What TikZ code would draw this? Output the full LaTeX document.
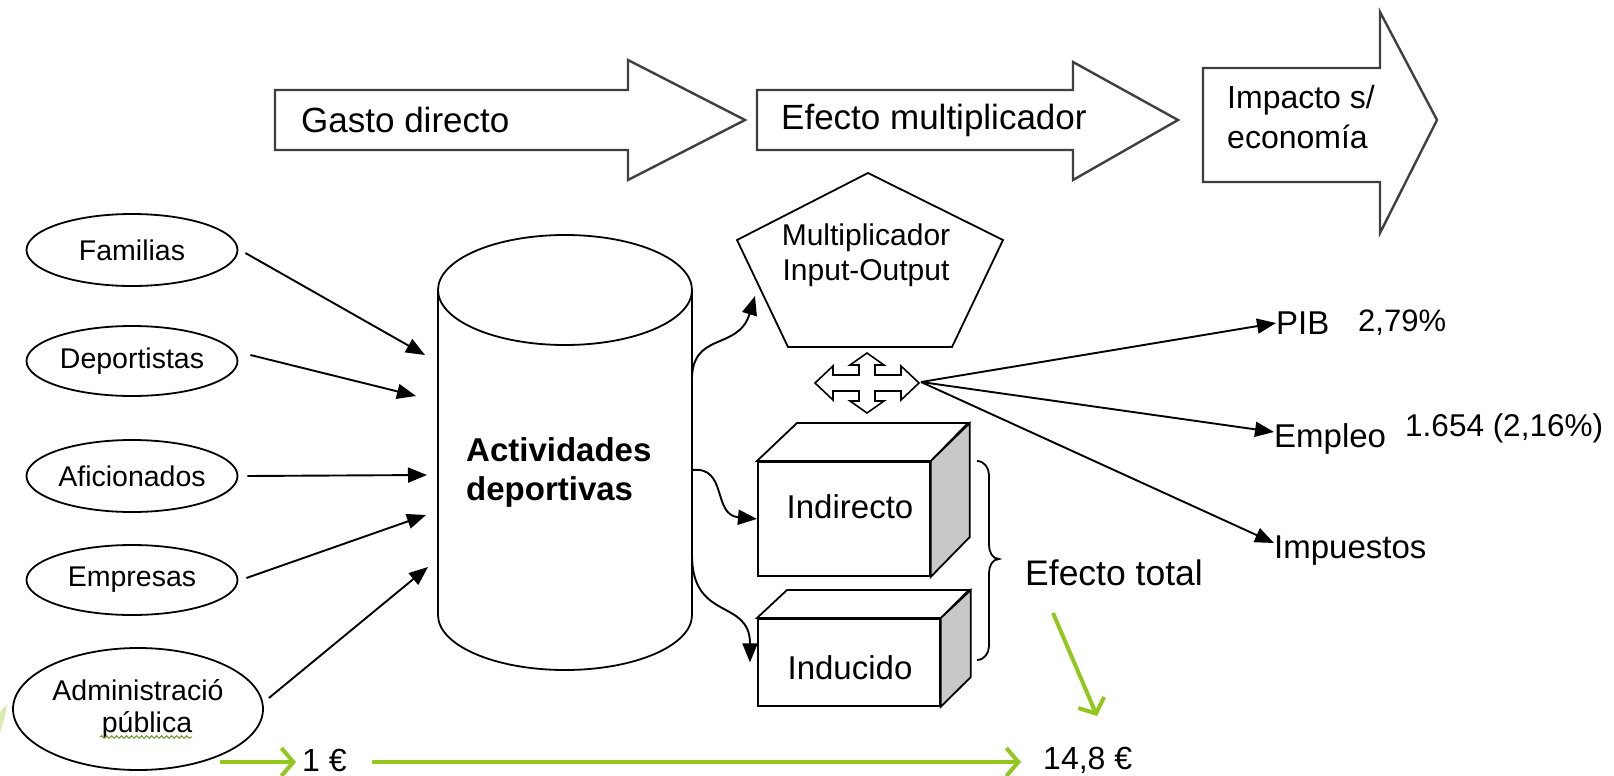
\documentclass[tikz,border=0pt]{standalone}
\usepackage{fontspec}
\setmainfont{Liberation Sans}
\usetikzlibrary{arrows.meta,shapes.geometric,decorations.pathmorphing}
\definecolor{lime}{RGB}{146,200,30}
\definecolor{sidegray}{RGB}{200,200,200}
\definecolor{spell}{RGB}{110,150,40}
\tikzset{
  shp/.style={draw=black, line width=1.8pt, fill=white},
  bigarrow/.style={draw=black!75, line width=2.4pt, fill=white, line join=miter},
  ell/.style={shp, ellipse, minimum width=211pt, minimum height=72pt, inner sep=0pt, font=\fontsize{28.5}{32}\selectfont},
  arr/.style={draw=black, line width=1.9pt, -{Triangle[length=19pt,width=15pt]}},
  garr/.style={draw=lime, line width=4pt, -{Straight Barb[length=12pt,width=28pt]}},
  lbl/.style={inner sep=0pt, anchor=west},
  cube/.style={shp, rectangle, anchor=north west, inner sep=0pt},
  cubetext/.style={inner sep=0pt, font=\fontsize{33}{38}\selectfont},
}
\begin{document}
\begin{tikzpicture}[x=1pt,y=-1pt]
\fill[white] (0,0) rectangle (1614,776);
\useasboundingbox (0,0) rectangle (1614,776);

% ---------- top arrows
\draw[bigarrow] (275,90) -- (628,90) -- (628,60) -- (745,120) -- (628,180) -- (628,150) -- (275,150) -- cycle;
\node[lbl, font=\fontsize{35}{40}\selectfont] (gasto) at (301,120) {Gasto directo};
\draw[bigarrow] (757,90) -- (1073,90) -- (1073,62) -- (1178,120) -- (1073,180) -- (1073,150) -- (757,150) -- cycle;
\node[lbl, font=\fontsize{35}{40}\selectfont] (efm) at (781,120) {Efecto multiplicador};
\draw[bigarrow] (1203,68) -- (1380,68) -- (1380,12) -- (1437,120) -- (1380,233) -- (1380,182) -- (1203,182) -- cycle;
\node[lbl, align=left, font=\fontsize{32}{40}\selectfont] (imp) at (1227,117) {Impacto s/\\economía};

% ---------- ellipses
\node[ell] (fam) at (132,250) {Familias};
\node[ell, minimum height=70pt] (dep) at (132,361) {Deportistas};
\node[ell] (afi) at (132,476) {Aficionados};
\node[ell, minimum height=70pt] (emp) at (132,580) {Empresas};
\node[ell, minimum width=250pt, minimum height=122pt, align=center, font=\fontsize{28.5}{32}\selectfont] (adm) at (138,709) {Administració\\\hspace*{18pt}pública};
\draw[spell, line width=1pt, decorate, decoration={snake, amplitude=1.3pt, segment length=5pt}] (100,737) -- (192,737);
\fill[lime!35] (0,733) -- (0,712) -- (7,704) -- (5,716) -- cycle;

% ---------- cylinder
\draw[shp] (438,290) -- (438,615) arc[start angle=180, end angle=360, x radius=127, y radius=-55] -- (692,290);
\draw[shp] (565,290) ellipse[x radius=127, y radius=55];
\node[lbl, align=left, font=\bfseries\fontsize{33}{39}\selectfont] (cyl) at (466,472) {Actividades\\deportivas};

\coordinate (c1) at (425,355);
\coordinate (c2) at (416,396);
\coordinate (c3) at (427,475);
\coordinate (c4) at (426,515);
\coordinate (c5) at (428,567);
\draw[arr] ([xshift=7pt,yshift=-3pt]fam.east) -- (c1);
\draw[arr] ([xshift=12pt,yshift=6pt]dep.east) -- (c2);
\draw[arr] ([xshift=9pt]afi.east) -- (c3);
\draw[arr] ([xshift=8pt,yshift=2pt]emp.east) -- (c4);
\draw[arr] ([xshift=5pt,yshift=11pt]adm.east) -- (c5);

% ---------- pentagon
\draw[shp] (868,173) -- (1003,240) -- (952,347) -- (788,347) -- (737,240) -- cycle;
\node[align=center, inner sep=0pt, font=\fontsize{30}{35}\selectfont] (mio) at (866,255) {Multiplicador\\Input-Output};

% ---------- quad arrow
\begin{scope}[shift={(867,383)}]
\draw[shp, line width=1.6pt, line join=miter] (0,-30) -- (17,-18) -- (8,-18) -- (8,-8) -- (34,-8) -- (34,-17) -- (52,0) -- (34,17) -- (34,8) -- (8,8) -- (8,18) -- (17,18) -- (0,30) -- (-17,18) -- (-8,18) -- (-8,8) -- (-34,8) -- (-34,17) -- (-52,0) -- (-34,-17) -- (-34,-8) -- (-8,-8) -- (-8,-18) -- (-17,-18) -- cycle;
\end{scope}
\coordinate (quadE) at (921,382);

% ---------- cubes
\node[cube, minimum width=172pt, minimum height=114pt] (ind) at (757,461) {};
\draw[shp] (ind.north west) -- ++(40,-38) -- ++(171,0) -- (ind.north east) -- cycle;
\draw[shp, fill=sidegray] (ind.north east) -- ++(39,-38) -- ++(0,114) -- (ind.south east) -- cycle;
\node[cubetext] (indt) at (850,507) {Indirecto};
\node[cube, minimum width=182pt, minimum height=87pt] (indu) at (757,618) {};
\draw[shp] (indu.north west) -- ++(30,-28) -- ++(182,0) -- (indu.north east) -- cycle;
\draw[shp, fill=sidegray] (indu.north east) -- ++(30,-28) -- ++(0,87) -- (indu.south east) -- cycle;
\node[cubetext] (indut) at (850,668) {Inducido};

% ---------- curved arrows from cylinder
\coordinate (o1) at (692,383);
\coordinate (o2) at (692,470);
\coordinate (o3) at (692,555);
\coordinate (pin) at (755,296);
\draw[arr] (o1) .. controls (690,330) and (738,352) .. (pin);
\draw[arr] (o2) .. controls (728,466) and (712,515) .. (ind.west);
\draw[arr] (o3) .. controls (692,622) and (750,598) .. (indu.west -| 750,667);

% ---------- brace and total
\draw[draw=black, line width=1.8pt] (977,461) to[out=0,in=90] (989,475) -- (989,545) to[out=-90,in=180] (999,559) to[out=180,in=90] (989,573) -- (989,646) to[out=-90,in=0] (977,660);
\node[lbl, font=\fontsize{35.5}{40}\selectfont] (tot) at (1025,573) {Efecto total};

% ---------- outputs
\node[lbl, font=\fontsize{33}{38}\selectfont] (pib) at (1276,323) {PIB};
\node[lbl, font=\fontsize{31}{36}\selectfont] (pibv) at (1358,323) {2,79\%};
\node[lbl, font=\fontsize{33}{38}\selectfont] (empl) at (1274,439) {Empleo};
\node[lbl, font=\fontsize{31.5}{36}\selectfont] (emplv) at (1405,428) {1.654 (2,16\%)};
\node[lbl, font=\fontsize{33}{38}\selectfont] (impu) at (1274,551) {Impuestos};
\draw[arr] (quadE) -- (pib.west);
\draw[arr] (quadE) -- ([yshift=7pt]empl.west);
\draw[arr] (quadE) -- ([yshift=8pt]impu.west);

% ---------- green arrows
\node[lbl, font=\fontsize{32}{36}\selectfont] (one) at (302,760) {1 €};
\node[lbl, font=\fontsize{32}{36}\selectfont] (tot148) at (1043,760) {14,8 €};
\coordinate (g0) at (220,762);
\coordinate (g1) at (372,762);
\coordinate (g2) at (1053,613);
\draw[garr] (g0) -- ([xshift=-6pt,yshift=-2pt]one.west);
\draw[garr] (g1) -- ([xshift=-22pt,yshift=-2pt]tot148.west);
\draw[garr] (g2) -- (1097,716);
\end{tikzpicture}
\end{document}
